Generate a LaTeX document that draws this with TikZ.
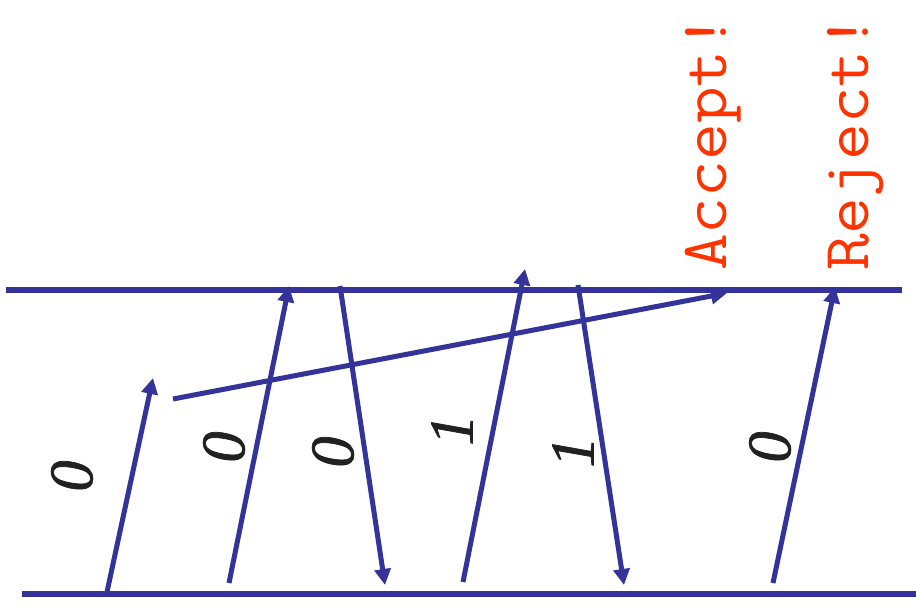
\documentclass[tikz,border=0pt]{standalone}
\usepackage{fontspec}
\setmainfont{Liberation Serif}
\newfontfamily\digitfont[FakeBold=1.2]{Liberation Serif}
\newfontfamily\typefont[FakeStretch=1.08]{Latin Modern Mono}
\usetikzlibrary{arrows.meta}
\definecolor{lineblue}{RGB}{51,51,153}
\definecolor{msgred}{RGB}{255,51,0}
\begin{document}
\begin{tikzpicture}[x=1pt,y=-1pt,
  tape/.style={draw=lineblue,line width=5.5pt},
  msg/.style={draw=lineblue,line width=5pt,-{Triangle[length=16pt,width=16pt]}},
  sym/.style={font=\digitfont\itshape\fontsize{62}{62}\selectfont,rotate=90,inner sep=0pt,text=black!87},
  verdict/.style={font=\typefont\fontsize{66}{66}\selectfont,text=msgred,rotate=90,inner sep=0pt,anchor=base west}]
\useasboundingbox (0,0) rectangle (916,614);
% tapes
\coordinate (t1) at (6,290);
\coordinate (t2) at (902,290);
\coordinate (b1) at (22,594);
\coordinate (b2) at (916,594);
\draw[tape] (t1) -- (t2);
\draw[tape] (b1) -- (b2);
% endpoints
\coordinate (a1s) at (107,592);
\coordinate (a1e) at (153,378);
\coordinate (a2s) at (229,583);
\coordinate (a2e) at (289,286);
\coordinate (a3s) at (340,286);
\coordinate (a3e) at (385,585);
\coordinate (a4s) at (463,582);
\coordinate (a4e) at (525,269);
\coordinate (a5s) at (578,285);
\coordinate (a5e) at (624,585);
\coordinate (a6s) at (773,583);
\coordinate (a6e) at (835,287);
\coordinate (a7s) at (173,399);
\coordinate (a7e) at (727,293);
\draw[msg] (a1s) -- (a1e);
\draw[msg] (a2s) -- (a2e);
\draw[msg] (a3s) -- (a3e);
\draw[msg] (a4s) -- (a4e);
\draw[msg] (a5s) -- (a5e);
\draw[msg] (a6s) -- (a6e);
\draw[msg] (a7s) -- (a7e);
% symbols
\node[sym] (s1) at (72,476) {0};
\node[sym] (s2) at (224,447) {0};
\node[sym] (s3) at (333,452) {0};
\node[sym] (s4) at (452,430) {1};
\node[sym] (s5) at (573,452) {1};
\node[sym] (s6) at (770,447) {0};
% verdicts
\node[verdict] (acc) at (726,271) {Accept!};
\node[verdict] (rej) at (868,271) {Reject!};
\end{tikzpicture}
\end{document}
